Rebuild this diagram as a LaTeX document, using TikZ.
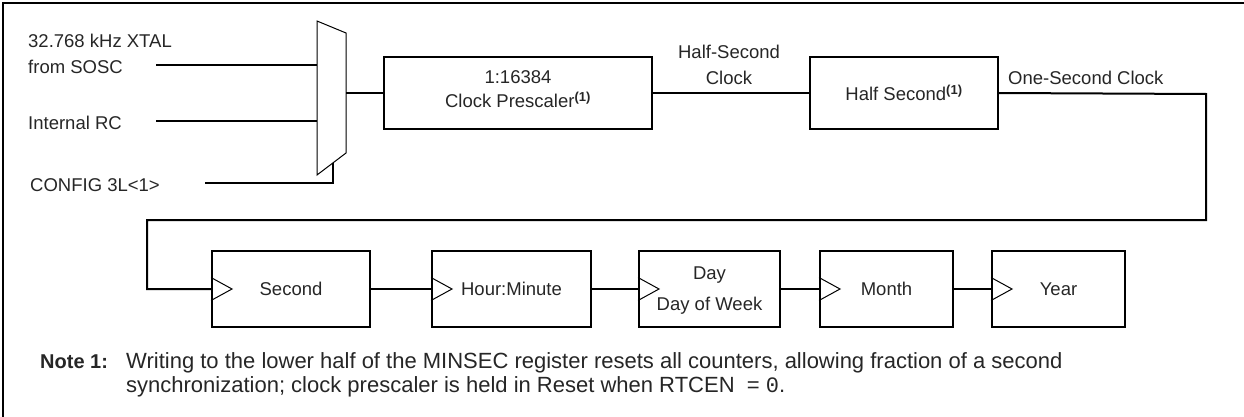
\documentclass[tikz,border=0pt]{standalone}
\usepackage{fontspec}
\setmainfont{Liberation Sans}
\newfontfamily\monofont{Liberation Mono}
\begin{document}
\begin{tikzpicture}[x=1pt,y=-1pt,
  every node/.style={font=\fontsize{18.5}{22}\selectfont, inner sep=0pt, text=black!85},
  blk/.style={draw, line width=2pt, minimum height=76pt},
  topblk/.style={draw, line width=2pt, minimum height=72pt},
  wire/.style={line width=2pt},
  thin/.style={line width=1pt},
  lbl/.style={anchor=west},
  notefont/.style={font=\fontsize{22}{26}\selectfont, anchor=base west},
  notebold/.style={font=\fontsize{20}{24}\selectfont\bfseries, anchor=base west}
]
\useasboundingbox (0,0) rectangle (1244,417);
% frame
\draw[line width=2.5pt] (3,417) -- (3,3) -- (1244,3);

% multiplexer
\coordinate (mtl) at (317,21);
\coordinate (mbl) at (317,175);
\coordinate (mtr) at (346,33);
\coordinate (mbr) at (346,153);
\draw[thin, line join=miter] (mtl) -- (mtr) -- (mbr) -- (mbl) -- cycle;
\coordinate (in1) at (317,65);
\coordinate (in2) at (317,121);
\coordinate (sel) at (333,163);
\coordinate (mout) at (346,93);

% input labels
\node[lbl] (xtal) at (28,41) {32.768 kHz XTAL};
\node[lbl] (sosc) at (28,67) {from SOSC};
\node[lbl] (irc) at (28,123) {Internal RC};
\node[lbl] (cfg) at (30,185) {CONFIG 3L<1>};
\coordinate (s1) at (156,65);
\coordinate (s2) at (156,121);
\coordinate (s3) at (205,183);
\draw[wire] (s1) -- (in1);
\draw[wire] (s2) -- (in2);
\draw[wire] (s3) -- (sel |- s3) -- (sel);

% top row
\node[topblk, minimum width=268pt] (pre) at (518,93) {};
\node (pre1) at (518,77) {1:16384};
\node (pre2) at (518,100) {Clock Prescaler\textsuperscript{\bfseries\fontsize{13}{13}\selectfont (1)}};
\node[topblk, minimum width=188pt] (half) at (904,93) {Half Second\textsuperscript{\bfseries\fontsize{13}{13}\selectfont (1)}};
\draw[wire] (mout) -- (mout -| pre.west);
\draw[wire] (pre.east) -- (half.west);
\node[align=center] (hsc) at (729,65) {Half-Second\\[4pt]Clock};
\node[lbl] (osc) at (1008,78) {One-Second Clock};

% bottom row
\node[blk, minimum width=158pt] (sec) at (291,289) {Second};
\node[blk, minimum width=159pt] (hm) at (511.5,289) {Hour:Minute};
\node[blk, minimum width=141pt] (day) at (709.5,289) {};
\node (day1) at (709.5,275) {Day};
\node (day2) at (709.5,306) {Day of Week};
\node[blk, minimum width=133pt] (mon) at (886.5,289) {Month};
\node[blk, minimum width=133pt] (yr) at (1058.5,289) {Year};

% clock triangles
\foreach \n in {sec,hm,day,mon,yr}{
  \draw[thin, line join=miter] (\n.west) ++(0,-11.5) -- ++(21,11.5) -- ++(-21,11.5);
}

% one-second clock route
\coordinate (r1) at (1206,94);
\coordinate (r2) at (1206,220);
\coordinate (r3) at (147,220);
\draw[wire, line join=miter] (half.east) -- (r1) -- (r2) -- (r3) -- (r3 |- sec.west) -- (sec.west);
\draw[wire] (sec.east) -- (hm.west);
\draw[wire] (hm.east) -- (day.west);
\draw[wire] (day.east) -- (mon.west);
\draw[wire] (mon.east) -- (yr.west);

% note
\node[notebold] (note) at (40,368) {Note};
\node[notebold] (noten) at (90,368) {1:};
\node[notefont] (nl1) at (126,368) {Writing to the lower half of the MINSEC register resets all counters, allowing fraction of a second};
\node[notefont] (nl2) at (126,392) {synchronization; clock prescaler is held in Reset when RTCEN \ = {\monofont 0}.};
\end{tikzpicture}
\end{document}
